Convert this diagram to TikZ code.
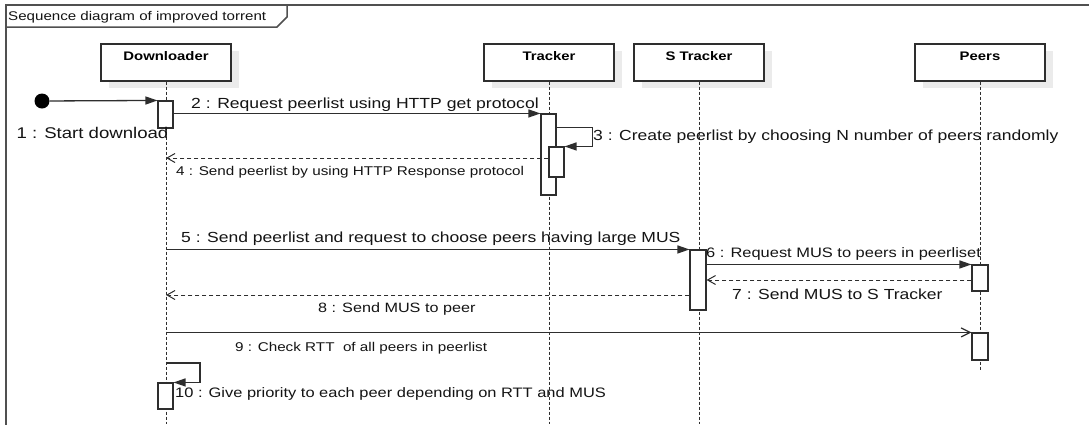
\documentclass[tikz,border=0pt]{standalone}
\usepackage{fontspec}
\setmainfont{Liberation Sans}[FakeStretch=1.2]
\usetikzlibrary{arrows.meta,shadows}

\definecolor{ink}{HTML}{2E2E2E}
\definecolor{framec}{HTML}{505050}
\definecolor{shade}{HTML}{EBEBEB}
\newcommand\setfs[1]{\fontsize{#1}{#1}\selectfont}

\begin{document}
\begin{tikzpicture}[x=1pt,y=-1pt,
  head/.style={draw=ink, line width=1.1pt, fill=white, minimum width=130pt,
    minimum height=37pt, inner sep=0pt,
    general shadow={fill=shade, shadow xshift=8pt, shadow yshift=-7pt}},
  headtxt/.style={font=\bfseries\setfs{12.4}, inner sep=0pt, anchor=base, text=black},
  act/.style={draw=ink, line width=1.1pt, fill=white, minimum width=15pt, inner sep=0pt},
  life/.style={draw=ink, line width=1pt, dash pattern=on 3pt off 2pt},
  sync/.style={draw=ink, line width=1.3pt, -{Triangle[length=12pt,width=8pt]}},
  reply/.style={draw=ink, line width=1pt, dash pattern=on 4pt off 3pt,
    -{Straight Barb[length=8pt,width=9pt]}},
  call/.style={draw=ink, line width=1.2pt, -{Straight Barb[length=9pt,width=9pt]}},
  msg/.style={inner sep=0pt, anchor=base west, text=black!92},
  framel/.style={draw=framec, line width=1.5pt},
]
\useasboundingbox[fill=white] (0,0) rectangle (1089,424);

% frame and its title tab
\draw[framel] (1092,5) -- (6,5) -- (6,427);
\draw[framel] (6,27) -- (277,27) -- (287,17) -- (287,5);
\node[msg, font=\setfs{12.6}] (title) at (8,20.5) {Sequence diagram of improved torrent};

% lifeline heads
\node[head] (dl) at (166,62.5) {};
\node[head] (tr) at (549,62.5) {};
\node[head] (st) at (699,62.5) {};
\node[head] (pe) at (980,62.5) {};
\node[headtxt] (dlt) at ([yshift=-17.5pt]dl.north) {Downloader};
\node[headtxt] (trt) at ([yshift=-17.5pt]tr.north) {Tracker};
\node[headtxt] (stt) at ([yshift=-17.5pt]st.north) {S Tracker};
\node[headtxt] (pet) at ([yshift=-17.5pt]pe.north) {Peers};

% lifelines
\coordinate (dlend) at (166,424);
\coordinate (trend) at (549,424);
\coordinate (stend) at (699,424);
\coordinate (peend) at (980,370);
\draw[life] (dl.south) -- (dlend);
\draw[life] (tr.south) -- (trend);
\draw[life] (st.south) -- (stend);
\draw[life] (pe.south) -- (peend);

% activations
\node[act, minimum height=27pt] (a1) at (165.5,114.5) {};
\node[act, minimum height=81pt] (a2) at (548.5,154.5) {};
\node[act, minimum height=30pt] (a3) at (556.5,162) {};
\node[act, minimum height=60pt, minimum width=16pt] (a4) at (698,280) {};
\node[act, minimum height=26pt, minimum width=16pt] (a5) at (980,278) {};
\node[act, minimum height=27pt, minimum width=16pt] (a6) at (980,346.5) {};
\node[act, minimum height=26pt] (a7) at (165.5,396) {};

% message rows
\coordinate (r4) at (0,158);
\coordinate (r7) at (0,280);
\coordinate (r8) at (0,295);
\coordinate (r10) at (0,363);

% initial message
\node[circle, fill=black, minimum size=15pt, inner sep=0pt] (start) at (42,101) {};
\draw[sync] (start) -- (a1.north west);

% messages
\draw[sync] (a1.east |- a2.north) -- (a2.north west);
\draw[sync] ([yshift=-14pt]a2.north east) -- ++(36,0) |- (a3.north east);
\draw[reply] (a3.west |- r4) -- (dl.south |- r4);
\draw[sync] (dl.south |- a4.north) -- (a4.north west);
\draw[sync] (a4.east |- a5.north) -- (a5.north west);
\draw[reply] (a5.west |- r7) -- (a4.east |- r7);
\draw[reply] (a4.west |- r8) -- (dl.south |- r8);
\draw[call] (dl.south |- a6.north) -- (a6.north west);
\draw[sync] (dl.south |- r10) -- ++(34,0) |- (a7.north east);

% message labels
\node[msg, font=\setfs{15.5}] (l1) at (16.5,138.3) {1 : Start download};
\node[msg, font=\setfs{14.65}] (l2) at (191,108.3) {2 : Request peerlist using HTTP get protocol};
\node[msg, font=\setfs{14.6}] (l3) at (593,140) {3 : Create peerlist by choosing N number of peers randomly};
\node[msg, font=\setfs{12.7}] (l4) at (176,175) {4 : Send peerlist by using HTTP Response protocol};
\node[msg, font=\setfs{14.6}] (l5) at (181,242.7) {5 : Send peerlist and request to choose peers having large MUS};
\node[msg, font=\setfs{13.7}] (l6) at (706,257.6) {6 : Request MUS to peers in peerliset};
\node[msg, font=\setfs{14.6}] (l7) at (732,299.2) {7 : Send MUS to S Tracker};
\node[msg, font=\setfs{13.5}] (l8) at (318,312.6) {8 : Send MUS to peer};
\node[msg, font=\setfs{12.7}] (l9) at (235,351) {9 : Check RTT \ of all peers in peerlist};
\node[msg, font=\setfs{13.7}] (l10) at (175,397.6) {10 : Give priority to each peer depending on RTT and MUS};
\end{tikzpicture}
\end{document}
